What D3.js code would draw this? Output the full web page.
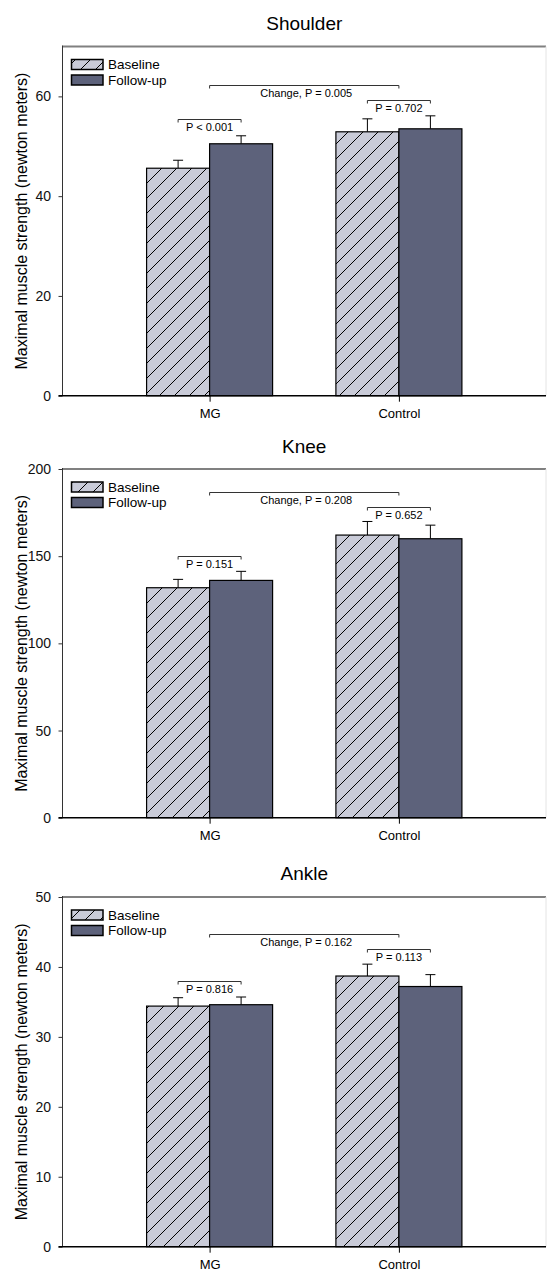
<!DOCTYPE html>
<html>
<head>
<meta charset="utf-8">
<script src="https://cdn.jsdelivr.net/npm/d3@7"></script>
<style>
  html, body { margin: 0; padding: 0; background: #fff; }
  svg { display: block; font-family: "Liberation Sans", Arial, sans-serif; }
</style>
</head>
<body>
<svg id="chart" width="547" height="1271"></svg>
<script>
// ---------- data ----------
const categories = ["MG", "Control"];
const seriesNames = ["Baseline", "Follow-up"];
const panelTitles = ["Shoulder", "Knee", "Ankle"];
const yLabel = "Maximal muscle strength (newton meters)";

const shoulderBaseline = [45.6, 52.9];
const shoulderFollowUp = [50.5, 53.5];
const shoulderBaselineSE = [1.6, 2.6];
const shoulderFollowUpSE = [1.6, 2.6];
const shoulderTicks = [0, 20, 40, 60];
const shoulderMax = 70;
const shoulderPLabels = ["P < 0.001", "P = 0.702"];
const shoulderChangeLabel = "Change, P = 0.005";
const shoulderBracketLevels = [55.4, 59.3, 62.2];

const kneeBaseline = [131.9, 162.1];
const kneeFollowUp = [136.1, 160.0];
const kneeBaselineSE = [4.8, 7.8];
const kneeFollowUpSE = [5.2, 7.8];
const kneeTicks = [0, 50, 100, 150, 200];
const kneeMax = 200;
const kneePLabels = ["P = 0.151", "P = 0.652"];
const kneeChangeLabel = "Change, P = 0.208";
const kneeBracketLevels = [150.1, 178.1, 187.0];

const ankleBaseline = [34.4, 38.7];
const ankleFollowUp = [34.6, 37.2];
const ankleBaselineSE = [1.2, 1.7];
const ankleFollowUpSE = [1.1, 1.7];
const ankleTicks = [0, 10, 20, 30, 40, 50];
const ankleMax = 50;
const anklePLabels = ["P = 0.816", "P = 0.113"];
const ankleChangeLabel = "Change, P = 0.162";
const ankleBracketLevels = [38.0, 42.5, 44.7];

// ---------- layout ----------
const panels = [
  { title: panelTitles[0], base: shoulderBaseline, follow: shoulderFollowUp, baseSE: shoulderBaselineSE, followSE: shoulderFollowUpSE,
    ticks: shoulderTicks, max: shoulderMax, pLabels: shoulderPLabels, change: shoulderChangeLabel, levels: shoulderBracketLevels,
    top: 46.5, bottom: 395.7, titleY: 30 },
  { title: panelTitles[1], base: kneeBaseline, follow: kneeFollowUp, baseSE: kneeBaselineSE, followSE: kneeFollowUpSE,
    ticks: kneeTicks, max: kneeMax, pLabels: kneePLabels, change: kneeChangeLabel, levels: kneeBracketLevels,
    top: 469, bottom: 817.7, titleY: 453 },
  { title: panelTitles[2], base: ankleBaseline, follow: ankleFollowUp, baseSE: ankleBaselineSE, followSE: ankleFollowUpSE,
    ticks: ankleTicks, max: ankleMax, pLabels: anklePLabels, change: ankleChangeLabel, levels: ankleBracketLevels,
    top: 897, bottom: 1246.7, titleY: 880 }
];

const left = 62.5, right = 546;
const barW = 63;
const baseFill = "#c9cbd8";
const followFill = "#5d627b";

const svg = d3.select("#chart");

// hatch pattern
const defs = svg.append("defs");
const pat = defs.append("pattern")
  .attr("id", "hatch")
  .attr("patternUnits", "userSpaceOnUse")
  .attr("width", 15).attr("height", 15);
pat.append("rect").attr("width", 15).attr("height", 15).attr("fill", baseFill);
pat.append("path")
  .attr("d", "M0,15 L15,0 M-4,4 L4,-4 M11,19 L19,11")
  .attr("stroke", "#000").attr("stroke-width", 1);

const x = d3.scalePoint().domain(categories).range([left, right]).padding(0.777);

panels.forEach(p => {
  const g = svg.append("g");
  const y = d3.scaleLinear().domain([0, p.max]).range([p.bottom, p.top]);
  const midX = (left + right) / 2;

  // title
  g.append("text").attr("x", midX).attr("y", p.titleY)
    .attr("text-anchor", "middle").attr("font-size", 19).attr("fill", "#000")
    .text(p.title);

  // y label
  g.append("text")
    .attr("transform", `translate(21,${(p.top + p.bottom) / 2}) rotate(-90)`)
    .attr("text-anchor", "middle").attr("dominant-baseline", "central")
    .attr("font-size", 16).attr("fill", "#000")
    .text(yLabel);

  // frame: top and right lines
  g.append("line").attr("x1", left).attr("x2", right).attr("y1", p.top).attr("y2", p.top)
    .attr("stroke", "#808080").attr("stroke-width", 2);
  g.append("line").attr("x1", right).attr("x2", right).attr("y1", p.top).attr("y2", p.bottom)
    .attr("stroke", "#e4e4e4").attr("stroke-width", 1);

  // y axis
  const yAxis = g.append("g").attr("transform", `translate(${left},0)`)
    .call(d3.axisLeft(y).tickValues(p.ticks).tickSize(4).tickPadding(7.5));
  yAxis.select(".domain").remove();
  yAxis.selectAll(".tick line").attr("stroke", "#333");
  yAxis.selectAll(".tick text").attr("font-size", 14).attr("font-family", "Liberation Sans, Arial, sans-serif").attr("fill", "#111");
  g.append("line").attr("x1", left).attr("x2", left).attr("y1", p.top - 1).attr("y2", p.bottom)
    .attr("stroke", "#333").attr("stroke-width", 1);

  // legend
  const lg = g.append("g");
  const swY = p.top + 13;
  [0, 1].forEach(i => {
    lg.append("rect").attr("x", 71.5).attr("y", swY + i * 15.5).attr("width", 31.5).attr("height", 10)
      .attr("fill", i === 0 ? "url(#hatch)" : followFill)
      .attr("stroke", "#000").attr("stroke-width", 1.5);
    lg.append("text").attr("x", 108).attr("y", swY + i * 15.5 + 5)
      .attr("dominant-baseline", "central").attr("font-size", 13.5).attr("fill", "#000")
      .text(seriesNames[i]);
  });

  // bars
  const barData = [];
  categories.forEach((c, ci) => {
    barData.push({ c, s: 0, v: p.base[ci], se: p.baseSE[ci] });
    barData.push({ c, s: 1, v: p.follow[ci], se: p.followSE[ci] });
  });
  const bx = d => x(d.c) + (d.s === 0 ? -barW : 0);

  // error bars (upper only)
  const eb = g.append("g");
  eb.selectAll("line.stem").data(barData).join("line")
    .attr("x1", d => bx(d) + barW / 2).attr("x2", d => bx(d) + barW / 2)
    .attr("y1", d => y(d.v)).attr("y2", d => y(d.v + d.se))
    .attr("stroke", "#000").attr("stroke-width", 1);
  eb.selectAll("line.cap").data(barData).join("line")
    .attr("x1", d => bx(d) + barW / 2 - 5).attr("x2", d => bx(d) + barW / 2 + 5)
    .attr("y1", d => y(d.v + d.se)).attr("y2", d => y(d.v + d.se))
    .attr("stroke", "#000").attr("stroke-width", 1);

  g.append("g").selectAll("rect").data(barData).join("rect")
    .attr("x", d => bx(d)).attr("width", barW)
    .attr("y", d => y(d.v)).attr("height", d => y(0) - y(d.v))
    .attr("fill", d => d.s === 0 ? "url(#hatch)" : followFill)
    .attr("stroke", "#000").attr("stroke-width", 1.2);

  // x axis
  const xAxis = g.append("g").attr("transform", `translate(0,${p.bottom})`)
    .call(d3.axisBottom(x).tickSize(6).tickPadding(7));
  xAxis.select(".domain").remove();
  xAxis.selectAll(".tick line").attr("stroke", "#000");
  xAxis.selectAll(".tick text").attr("font-size", 13).attr("font-family", "Liberation Sans, Arial, sans-serif").attr("fill", "#000");
  g.append("line").attr("x1", left - 4).attr("x2", right).attr("y1", p.bottom).attr("y2", p.bottom)
    .attr("stroke", "#000").attr("stroke-width", 1.5);

  // brackets
  const brackets = [
    { x1: x(categories[0]) - barW / 2, x2: x(categories[0]) + barW / 2, lv: p.levels[0], label: p.pLabels[0] },
    { x1: x(categories[1]) - barW / 2, x2: x(categories[1]) + barW / 2, lv: p.levels[1], label: p.pLabels[1] },
    { x1: x(categories[0]), x2: x(categories[1]), lv: p.levels[2], label: p.change }
  ];
  const bg = g.append("g");
  bg.selectAll("path").data(brackets).join("path")
    .attr("d", d => { const yy = Math.round(y(d.lv)) + 0.5; return `M${d.x1},${yy + 3}V${yy}H${d.x2}V${yy + 3}`; })
    .attr("fill", "none").attr("stroke", "#333").attr("stroke-width", 1);
  bg.selectAll("text").data(brackets).join("text")
    .attr("x", d => (d.x1 + d.x2) / 2 + (d.label === p.change ? 2 : 0))
    .attr("y", d => y(d.lv) + 12)
    .attr("text-anchor", "middle").attr("font-size", 11).attr("fill", "#000")
    .text(d => d.label);
});
</script>
</body>
</html>
